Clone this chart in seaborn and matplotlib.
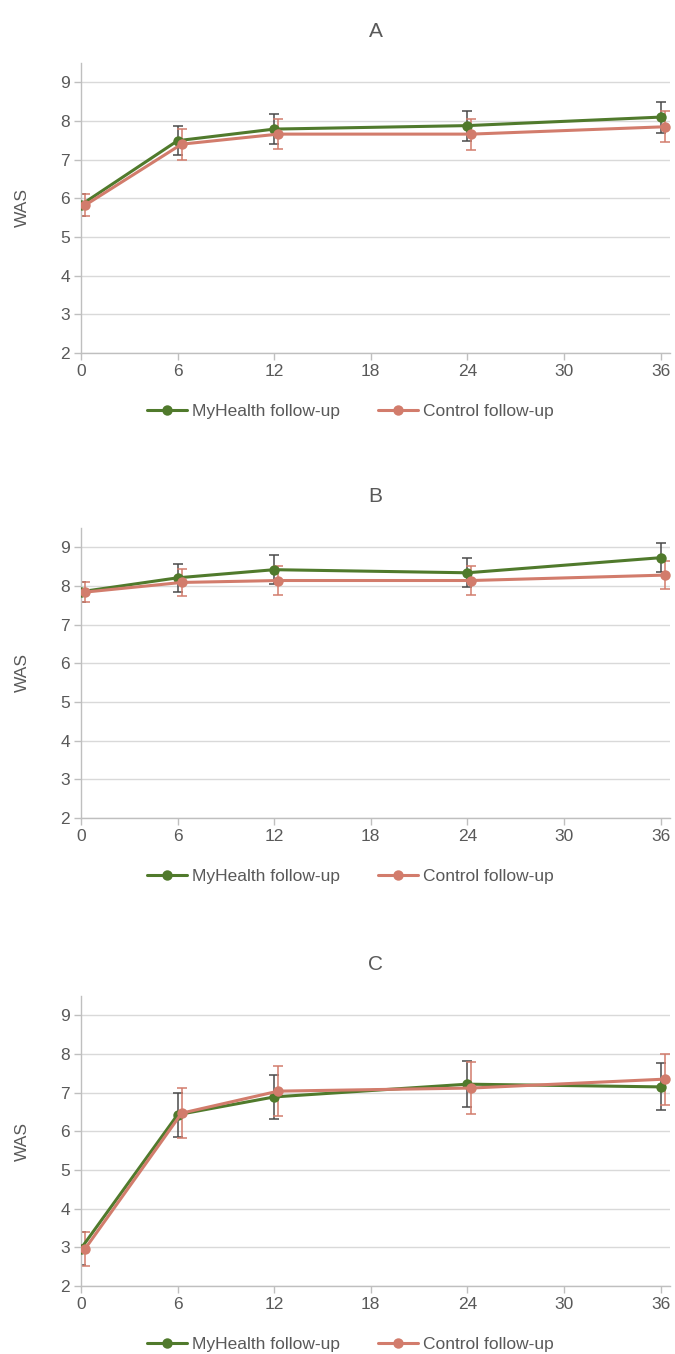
import pandas as pd
import seaborn as sns
import matplotlib.pyplot as plt

# mois de suivi
months = [0, 6, 12, 24, 36]

# Panneau A
a_my = [5.83, 7.49, 7.79, 7.88, 8.10]
a_my_err = [0.28, 0.38, 0.39, 0.39, 0.40]
a_ctrl = [5.82, 7.40, 7.66, 7.66, 7.85]
a_ctrl_err = [0.28, 0.40, 0.39, 0.40, 0.40]

# Panneau B
b_my = [7.85, 8.21, 8.42, 8.34, 8.73]
b_my_err = [0.26, 0.37, 0.37, 0.37, 0.37]
b_ctrl = [7.84, 8.09, 8.14, 8.14, 8.28]
b_ctrl_err = [0.26, 0.36, 0.37, 0.38, 0.37]

# Panneau C
c_my = [2.97, 6.43, 6.89, 7.22, 7.15]
c_my_err = [0.43, 0.57, 0.58, 0.60, 0.61]
c_ctrl = [2.96, 6.47, 7.04, 7.12, 7.35]
c_ctrl_err = [0.43, 0.64, 0.64, 0.68, 0.66]

panels = [("A", a_my, a_my_err, a_ctrl, a_ctrl_err),
          ("B", b_my, b_my_err, b_ctrl, b_ctrl_err),
          ("C", c_my, c_my_err, c_ctrl, c_ctrl_err)]

series_names = ["MyHealth follow-up", "Control follow-up"]
green = "#507a2c"
salmon = "#d27c6c"
dodge = 0.25

sns.set_theme(style="white")
plt.rcParams["font.family"] = ["Liberation Sans", "DejaVu Sans"]

fig = plt.figure(figsize=(6.75, 13.54), dpi=100)
bottoms = [0.7393, 0.3959, 0.0502]
left, width, height = 0.12, 0.873, 0.2142

for (titre, my, my_err, ctrl, ctrl_err), bot in zip(panels, bottoms):
    ax = fig.add_axes([left, bot, width, height])
    df = pd.DataFrame({
        "mois": months + [m + dodge for m in months],
        "WAS": my + ctrl,
        "groupe": [series_names[0]] * len(months) + [series_names[1]] * len(months),
    })
    ax.errorbar(months, my, yerr=my_err, fmt="none", ecolor="#4a4a4a",
                elinewidth=1.1, capsize=3.5, capthick=1.1, zorder=2)
    ax.errorbar([m + dodge for m in months], ctrl, yerr=ctrl_err, fmt="none",
                ecolor=salmon, elinewidth=1.1, capsize=3.5, capthick=1.1, zorder=2)
    sns.lineplot(data=df, x="mois", y="WAS", hue="groupe",
                 palette=[green, salmon], marker="o", markersize=7.5,
                 markeredgewidth=0, linewidth=2.2, ax=ax, zorder=3)

    ax.set_xlim(0, 36.6)
    ax.set_ylim(2, 9.5)
    ax.set_xticks([0, 6, 12, 18, 24, 30, 36])
    ax.set_yticks(range(2, 10))
    ax.grid(axis="y", color="#d9d9d9", linewidth=1)
    ax.set_axisbelow(True)
    for s in ["top", "right"]:
        ax.spines[s].set_visible(False)
    for s in ["left", "bottom"]:
        ax.spines[s].set_color("#bfbfbf")
        ax.spines[s].set_linewidth(1)
    ax.tick_params(axis="both", which="both", length=5, width=1, color="#bfbfbf",
                   labelsize=12.5, labelcolor="#595959", direction="out",
                   bottom=True, left=True, pad=3)
    ax.set_xlabel("")
    ax.set_ylabel("WAS", fontsize=12.5, color="#595959", labelpad=22)
    ax.set_title(titre, fontsize=15, color="#595959", pad=19)

    leg = ax.legend(loc="center", bbox_to_anchor=(0.457, -0.203), ncol=2,
                    frameon=False, fontsize=12.5, handlelength=2.3,
                    columnspacing=2.2, handletextpad=0.3)
    for t in leg.get_texts():
        t.set_color("#595959")

fig.savefig("out.png", dpi=100, facecolor="white")
